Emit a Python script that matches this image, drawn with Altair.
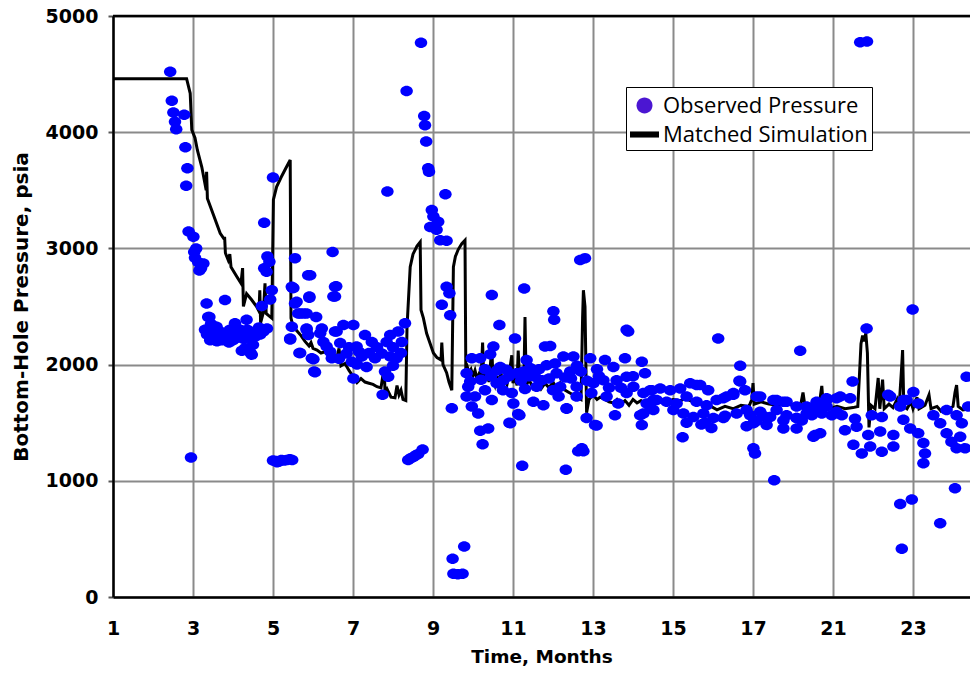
import altair as alt
import pandas as pd

# ---------------- simulated bottom-hole pressure (months, psia) ----------------
sim_month_1 = [1.0, 2.84, 2.93, 2.97, 3.05, 3.11, 3.22, 3.33, 3.34, 3.36, 3.51, 3.68, 3.78, 3.79,
               3.81, 3.88, 3.92, 3.95, 4.09, 4.2, 4.24, 4.26, 4.34, 4.46, 4.59, 4.65, 4.67, 4.69,
               4.76, 4.8, 4.83, 4.9, 4.97, 5.01, 5.09, 5.2, 5.32, 5.43]
sim_psia_1 = [4460, 4460, 4335, 4020, 3950, 3845, 3700, 3500, 3660, 3430, 3290, 3130, 3080, 3100,
              2960, 2900, 2950, 2840, 2760, 2700, 2830, 2500, 2610, 2560, 2500, 2460, 2640, 2360,
              2450, 2700, 2440, 2420, 2400, 3420, 3530, 3610, 3690, 3760]

sim_month_2 = [5.45, 5.5, 5.6, 5.7, 5.8, 5.9, 5.95, 6.0, 6.1, 6.2, 6.3, 6.4, 6.5, 6.6, 6.65, 6.7,
               6.8, 6.9, 7.0, 7.1, 7.2, 7.3, 7.4, 7.5, 7.6, 7.7, 7.78, 7.8, 7.85, 7.95, 8.05, 8.1,
               8.15, 8.2, 8.25, 8.32, 8.35, 8.43, 8.5, 8.6, 8.68, 8.7, 8.76, 8.84, 8.93, 9.01,
               9.1, 9.2, 9.22, 9.25, 9.34, 9.4, 9.47, 9.51, 9.56, 9.63, 9.72, 9.8]
sim_psia_2 = [2400, 2330, 2290, 2250, 2200, 2160, 2190, 2140, 2125, 2100, 2110, 2080, 2090, 2065,
              2140, 1990, 2010, 1950, 1900, 1845, 1880, 1850, 1840, 1830, 1810, 1800, 1980, 1760,
              1790, 1720, 1715, 1820, 1740, 1780, 1700, 1690, 2320, 2840, 2950, 3020, 3055, 2470,
              2400, 2270, 2180, 2100, 2060, 2040, 2190, 2000, 1930, 1850, 1780, 2840, 2930, 2990,
              3040, 3070]

sim_month_3 = [9.82, 9.85, 9.9, 9.95, 10.0, 10.05, 10.1, 10.15, 10.2, 10.24, 10.27, 10.35, 10.4,
               10.47, 10.5, 10.55, 10.6, 10.65, 10.7, 10.75, 10.8, 10.85, 10.9, 10.97, 11.0, 11.05,
               11.1, 11.13, 11.17, 11.22, 11.27, 11.3, 11.33, 11.4, 11.5, 11.6, 11.7, 11.8, 11.9,
               12.0, 12.1, 12.18, 12.3, 12.4, 12.5, 12.59, 12.7, 12.74, 12.76, 12.8, 12.84, 12.9,
               13.0, 13.1, 13.18, 13.3, 13.4, 13.5, 13.6, 13.7, 13.8, 13.9, 14.0, 14.1, 14.2, 14.3]
sim_psia_3 = [1980, 1990, 1930, 1960, 1900, 1950, 1880, 1920, 1870, 2190, 1880, 1930, 1850, 2150,
              1870, 1820, 1900, 1840, 1930, 1810, 1880, 1830, 1910, 2080, 1840, 1900, 1820, 2120,
              1830, 1880, 1800, 2410, 1820, 1870, 1800, 1850, 1790, 1840, 1800, 1850, 1790, 1840,
              1780, 1760, 1740, 1720, 1700, 2400, 2640, 2500, 1585, 1700, 1740, 1700, 1720, 1700,
              1680, 1670, 1700, 1660, 1690, 1650, 1700, 1670, 1690, 1660]

sim_month_4 = [14.4, 14.6, 14.8, 15.0, 15.2, 15.3, 15.5, 15.7, 15.9, 16.1, 16.3, 16.5, 16.7, 16.9,
               16.97, 17.0, 17.03, 17.2, 17.4, 17.6, 17.8, 17.9, 18.0, 18.2, 18.25, 18.3, 18.5,
               18.65, 18.72, 18.76, 18.9, 19.1, 19.3, 19.5, 19.62, 19.66, 19.7, 19.74, 19.78,
               19.82, 19.86, 19.9, 19.95, 20.05, 20.13, 20.17, 20.24, 20.28, 20.4, 20.5, 20.6,
               20.65, 20.72, 20.74, 20.77, 20.85, 20.95, 21.0, 21.1, 21.15, 21.3, 21.4, 21.45,
               21.6, 21.7, 21.8, 21.9, 22.0, 22.05, 22.09, 22.13, 22.25, 22.43]
sim_psia_4 = [1680, 1690, 1670, 1700, 1690, 1710, 1680, 1660, 1650, 1610, 1640, 1620, 1650, 1640,
              1700, 1840, 1660, 1680, 1660, 1650, 1660, 1670, 1640, 1670, 1760, 1640, 1630, 1640,
              1816, 1630, 1620, 1640, 1620, 1630, 1640, 1900, 2180, 2250, 2200, 2270, 2100, 1460,
              1650, 1620, 1885, 1620, 1870, 1620, 1660, 1630, 1700, 1620, 2000, 2126, 1640, 1620,
              1680, 1620, 1720, 1620, 1650, 1740, 1620, 1640, 1600, 1630, 1620, 1640, 1760, 1824,
              1640, 1610, 1620]

# ---------------- observed gauge pressure (month, psia) ----------------
obs_early = [(2.43, 4520), (2.47, 4270), (2.51, 4170), (2.55, 4090), (2.58, 4025), (2.78, 4150),
             (2.81, 3870), (2.86, 3690), (2.83, 3540), (2.89, 3145), (3.01, 3100), (3.08, 3000),
             (3.03, 2970), (3.13, 2880), (3.26, 2870), (3.16, 2810), (3.05, 2920), (3.2, 2830),
             (2.95, 1200)]

obs_plateau = [(3.34, 2525), (3.8, 2555), (3.38, 2410), (3.41, 2410), (3.3, 2300), (3.34, 2300),
               (3.43, 2230), (3.43, 2210), (3.59, 2325), (3.63, 2255), (3.76, 2240), (3.84, 2270),
               (4.05, 2355), (4.18, 2300), (4.22, 2240), (4.34, 2385), (4.22, 2120), (4.47, 2085),
               (4.51, 2270), (4.59, 2285), (4.72, 2285), (4.76, 2285), (4.72, 2505), (3.5, 2260),
               (3.55, 2210), (3.68, 2230), (3.95, 2250), (4.1, 2230), (4.3, 2290), (4.4, 2240),
               (4.65, 2320), (3.7, 2280), (4.0, 2210), (3.45, 2350), (3.35, 2260), (3.47, 2280),
               (3.52, 2330), (3.6, 2200), (3.72, 2210), (3.88, 2230), (3.92, 2300), (4.02, 2280),
               (4.14, 2260), (4.27, 2220), (4.36, 2300), (4.45, 2270), (4.55, 2240), (4.62, 2300),
               (4.68, 2260), (4.85, 2310), (3.9, 2190), (4.3, 2140), (4.5, 2170), (4.44, 2100),
               (4.78, 3220), (4.86, 2930), (4.91, 2885), (4.78, 2830), (4.84, 2800), (4.97, 2640),
               (5.0, 3610), (4.93, 2560)]

obs_shut_in_1 = [(5.0, 1175), (5.07, 1170), (5.14, 1165), (5.21, 1180), (5.28, 1175), (5.35, 1180),
                 (5.42, 1185), (5.48, 1180), (5.1, 1160)]

obs_mid = [(5.55, 2915), (5.49, 2660), (5.59, 2540), (5.47, 2325), (5.68, 2440), (5.88, 2770),
           (5.43, 2225), (5.68, 2100), (5.84, 2300), (5.47, 2670), (5.55, 2525), (5.63, 2440),
           (5.84, 2440), (5.43, 2215), (5.97, 2055), (6.03, 1940), (5.88, 2255), (6.18, 2270),
           (6.34, 2155), (6.47, 2055), (6.55, 2285), (6.51, 2585), (6.55, 2670), (5.91, 2585),
           (6.49, 2970), (5.93, 2770), (6.58, 2675), (6.55, 2585), (5.91, 2575), (5.51, 2660),
           (5.76, 2440), (6.08, 2410), (6.22, 2310), (5.84, 2310), (5.66, 2100), (6.01, 2045),
           (6.05, 1935), (6.26, 2195), (6.43, 2110), (6.59, 2285), (6.76, 2340), (7.01, 2340),
           (6.68, 2185), (6.84, 2095), (7.09, 2155), (6.97, 2025), (7.01, 1880), (7.3, 2255),
           (7.47, 2195), (7.22, 2070), (7.34, 1980), (7.55, 2055), (7.72, 2095), (7.84, 2195),
           (7.93, 2255), (8.13, 2285), (8.22, 2195), (8.3, 2355), (7.93, 2070), (8.09, 2055),
           (7.8, 1940), (7.88, 1895), (7.74, 1740), (7.86, 3490), (6.9, 2150), (7.15, 2110),
           (7.4, 2100), (7.6, 2150), (8.0, 2150), (8.2, 2100), (6.65, 2050), (7.1, 2000),
           (8.0, 1990)]

obs_build_up = [(8.34, 4355), (8.7, 4770), (8.78, 4140), (8.8, 4060), (8.83, 3920), (8.88, 3690),
                (8.9, 3660), (8.97, 3330), (9.01, 3275), (9.13, 3230), (8.93, 3185), (9.09, 3160),
                (9.18, 3070), (9.34, 3065), (9.31, 3465), (9.34, 2670), (9.41, 2615), (9.22, 2515),
                (9.43, 2425), (9.47, 1625)]

obs_shut_in_2 = [(8.38, 1180), (8.44, 1195), (8.51, 1205), (8.57, 1220), (8.63, 1230), (8.74, 1270),
                 (9.49, 330), (9.78, 435), (9.51, 200), (9.62, 195), (9.74, 200)]

obs_band_1 = [(9.97, 2055), (9.84, 1925), (9.93, 1855), (9.84, 1725), (9.97, 1640), (9.88, 1810),
              (10.05, 1725), (10.13, 1580), (10.18, 1430), (10.38, 1450), (10.24, 1315), (10.91, 1500),
              (11.13, 1575), (10.3, 1780), (10.47, 1695), (10.68, 1980), (10.84, 1955), (10.59, 1840),
              (10.76, 1865), (10.97, 1755), (11.01, 1665), (11.09, 1925), (11.26, 1940), (11.34, 2040),
              (11.43, 1970), (11.55, 1895), (11.72, 1865), (11.59, 1810), (11.51, 1680), (11.76, 1650),
              (11.84, 1995), (12.05, 2010), (12.26, 2070), (12.51, 2070), (12.09, 1925), (12.43, 1940),
              (12.18, 1810), (12.59, 1810), (12.14, 1725), (12.34, 1625), (12.59, 1725), (12.84, 1540),
              (13.05, 1480), (12.96, 1755), (13.01, 1840), (12.93, 2055), (13.3, 2040), (13.51, 1980),
              (13.26, 1865), (13.59, 1865), (13.84, 1895), (13.34, 1725), (13.63, 1665), (13.84, 1755),
              (13.55, 1565), (14.18, 1565), (14.22, 1480), (14.22, 2025), (14.3, 1925), (14.01, 1810),
              (14.26, 1755), (14.47, 1780), (14.51, 1695), (14.43, 1640), (12.72, 1280), (11.23, 1130),
              (12.32, 1095), (12.63, 1255), (12.76, 1255), (13.09, 1475), (11.16, 1565), (10.93, 1495),
              (12.34, 1620), (13.8, 2055), (13.88, 2285), (12.68, 2900), (12.8, 2915), (10.47, 2600),
              (11.28, 2655), (12.01, 2460), (12.03, 2385), (10.66, 2340), (13.84, 2300), (11.05, 2225),
              (10.51, 2155), (11.8, 2155), (11.93, 2160), (10.43, 2090), (10.18, 2055), (10.3, 1960),
              (10.45, 1900), (10.6, 1950), (10.9, 1900), (11.2, 1860), (11.4, 1900), (11.65, 1960),
              (11.9, 1880), (12.3, 1890), (12.45, 1880), (12.7, 1940), (12.85, 1860), (13.15, 1900),
              (13.4, 1800), (13.7, 1800), (14.0, 1900), (10.2, 1870), (10.75, 1780), (11.3, 1790),
              (12.0, 1780), (12.6, 1990), (13.1, 1960)]

obs_band_2 = [(16.13, 2225), (16.68, 1990), (16.68, 1855), (16.8, 1780), (17.01, 1280), (17.05, 1235),
              (17.53, 1005), (15.24, 1375), (16.66, 1860), (14.43, 1780), (14.68, 1795), (14.93, 1780),
              (15.18, 1795), (15.43, 1840), (15.68, 1825), (15.88, 1780), (14.34, 1665), (14.59, 1695),
              (14.84, 1680), (15.09, 1665), (15.34, 1725), (15.59, 1680), (15.84, 1650), (16.09, 1695),
              (16.34, 1725), (16.51, 1755), (14.26, 1580), (14.51, 1610), (15.01, 1610), (15.26, 1580),
              (15.51, 1550), (15.76, 1580), (16.01, 1540), (16.26, 1540), (16.59, 1580), (16.84, 1610),
              (15.34, 1500), (15.71, 1485), (15.96, 1455), (16.84, 1470), (17.09, 1515), (15.59, 1825),
              (16.26, 1710), (16.51, 1740), (17.18, 1725), (17.51, 1695), (17.76, 1680), (18.09, 1640),
              (15.8, 1500), (16.3, 1560), (17.25, 1560), (17.76, 1520), (18.09, 1540)]

obs_band_3 = [(18.18, 2120), (19.49, 1855), (19.84, 2310), (20.99, 2475), (22.34, 1895),
              (18.34, 1640), (18.59, 1665), (18.84, 1695), (19.09, 1710), (19.43, 1710),
              (18.22, 1520), (18.47, 1565), (18.72, 1580), (18.97, 1565), (19.22, 1565), (19.55, 1535),
              (18.55, 1395), (19.3, 1435), (19.59, 1465), (19.51, 1310), (19.72, 1235), (19.93, 1295),
              (20.22, 1250), (20.51, 1295), (19.88, 1395), (20.18, 1425), (20.51, 1395),
              (19.97, 1565), (20.22, 1550), (20.38, 1740), (20.68, 1640), (20.84, 1695), (21.01, 1765),
              (21.13, 1665), (20.76, 1525), (20.93, 1450), (21.13, 1410), (21.26, 1325), (21.3, 1235),
              (21.26, 1150), (21.51, 1565), (21.68, 1495), (21.84, 1410), (21.96, 1335), (22.18, 1380),
              (22.09, 1280), (22.3, 1280), (21.84, 1610), (22.09, 1565), (22.22, 1495), (22.38, 1640),
              (16.93, 1565), (17.18, 1595), (17.43, 1550), (17.59, 1610), (17.84, 1565), (18.09, 1540),
              (18.34, 1580), (18.59, 1610), (18.84, 1640), (19.09, 1595), (17.01, 1495), (17.34, 1480),
              (17.76, 1450), (18.09, 1450), (18.51, 1380), (18.68, 1410), (17.09, 1725), (17.59, 1695),
              (17.84, 1680), (18.59, 1680), (18.84, 1710), (19.18, 1725), (20.43, 1725), (20.76, 1695)]

obs_late_outliers = [(22.05, 935), (20.68, 800), (20.97, 840), (21.68, 635), (20.72, 415),
                     (19.68, 4775), (19.85, 4780)]

# ---------------- axis ticks / series ----------------
tick_values = [1, 3, 5, 7, 9, 11, 13, 15, 17, 19, 21]
tick_labels = ["1", "3", "5", "7", "9", "11", "13", "15", "17", "21", "23"]
psia_ticks = [0, 1000, 2000, 3000, 4000, 5000]

series_names = ["Observed Pressure", "Matched Simulation"]
point_color = "#0000ff"
line_color = "#000000"
legend_colors = ["#4b16d2", "#000000"]

# ---------------- tables ----------------
sim = pd.concat(
    [pd.DataFrame({"month": m, "psia": p}) for m, p in [
        (sim_month_1, sim_psia_1), (sim_month_2, sim_psia_2),
        (sim_month_3, sim_psia_3), (sim_month_4, sim_psia_4)]],
    ignore_index=True,
)
sim["step"] = range(len(sim))

obs_groups = [obs_early, obs_plateau, obs_shut_in_1, obs_mid, obs_build_up, obs_shut_in_2,
              obs_band_1, obs_band_2, obs_band_3, obs_late_outliers]
obs = pd.DataFrame([pt for g in obs_groups for pt in g], columns=["month", "psia"])

keys = pd.DataFrame({"series": series_names})

label_expr = ("[" + ",".join(f"'{t}'" for t in tick_labels) + "][indexof(["
              + ",".join(str(v) for v in tick_values) + "], datum.value)]")

x_scale = alt.Scale(domain=[1, 22.425], nice=False, zero=False)
y_scale = alt.Scale(domain=[0, 5000], nice=False)

bold = dict(labelFont="DejaVu Sans", labelFontWeight="bold", labelFontSize=19, labelColor="black",
            titleFont="DejaVu Sans", titleFontWeight="bold", titleColor="black",
            grid=True, gridColor="#8a8a8a", gridWidth=2,
            domainColor="black", domainWidth=2.5)

x_axis = alt.Axis(values=tick_values, labelExpr=label_expr, title="Time, Months",
                  titleFontSize=18.5, titlePadding=9, ticks=False, labelPadding=22,
                  labelAngle=0, labelFlush=False, labelOverlap=False, **bold)
y_axis = alt.Axis(values=psia_ticks, title="Bottom-Hole Pressure, psia", format="d",
                  titleFontSize=20, titlePadding=14, tickSize=5, tickColor="#555555",
                  tickWidth=2, labelPadding=10, **bold)

# gauge readings are drawn as slightly flattened dots
gauge_dot = "M-1.25,0a1.25,1.05 0 1,0 2.5,0a1.25,1.05 0 1,0 -2.5,0Z"

# legend keys: a dot for the gauge data, a thick bar for the simulation
dot_path = "M-0.55,0a0.55,0.55 0 1,0 1.1,0a0.55,0.55 0 1,0 -1.1,0Z"
bar_path = "M-1,-0.21H1V0.21H-1Z"
legend = alt.Legend(
    title=None, orient="none", legendX=513, legendY=71,
    padding=4, rowPadding=3, strokeColor="black", fillColor="white",
    labelFont="Open Sans", labelFontSize=22, labelColor="black", labelLimit=500,
    labelOffset=4, symbolSize=841, symbolOpacity=1, symbolStrokeWidth=0,
    symbolType={"expr": f"datum.value === '{series_names[0]}' ? '{dot_path}' : '{bar_path}'"},
)

sim_line = alt.Chart(sim).mark_line(color=line_color, strokeWidth=3, clip=True).encode(
    x=alt.X("month:Q", scale=x_scale, axis=x_axis),
    y=alt.Y("psia:Q", scale=y_scale, axis=y_axis),
    order="step:Q",
)

obs_points = alt.Chart(obs).mark_point(
    shape=gauge_dot, filled=True, color=point_color, size=100, opacity=1, clip=True
).encode(
    x="month:Q",
    y="psia:Q",
)

legend_keys = alt.Chart(keys).mark_point(filled=True, opacity=0, size=1).encode(
    color=alt.Color("series:N", scale=alt.Scale(domain=series_names, range=legend_colors),
                    legend=legend),
)

top_edge = alt.Chart(pd.DataFrame({"psia": [5000]})).mark_rule(
    color="black", strokeWidth=2.5
).encode(y="psia:Q")

chart = (
    alt.layer(sim_line, obs_points, top_edge, legend_keys)
    .properties(width=857, height=581, autosize="none",
                padding={"left": 113, "top": 16, "right": 0, "bottom": 76})
    .configure_view(stroke=None)
    .configure(background="white")
)

chart.save("out.html", embed_options={"renderer": "svg", "actions": False})
